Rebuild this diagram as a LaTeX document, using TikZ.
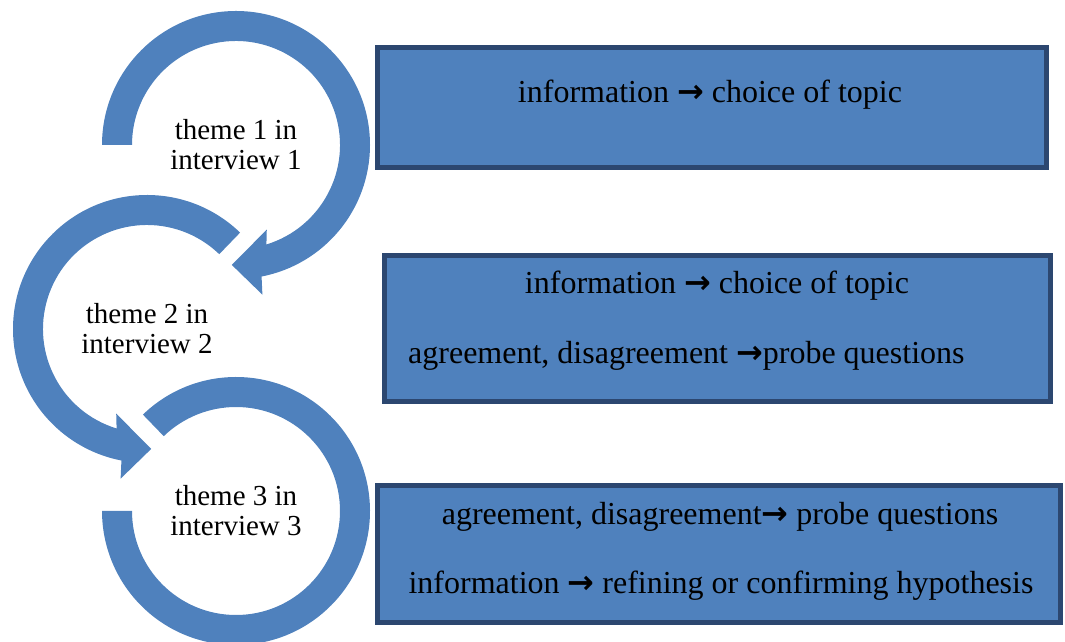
\documentclass[tikz,border=0pt]{standalone}
\usepackage{fontspec}
\setmainfont{Liberation Serif}
\newfontfamily\arrowfont{DejaVu Sans}
\usetikzlibrary{calc}
\definecolor{ringblue}{HTML}{4F81BD}
\definecolor{boxedge}{HTML}{2C4770}
\newcommand{\arr}{{\arrowfont\bfseries →}}

\begin{document}
\begin{tikzpicture}[x=1pt, y=1pt,
  ring/.style={fill=ringblue},
  box/.style={draw=boxedge, line width=5pt, fill=ringblue},
  lbl/.style={font=\fontsize{32}{34}\selectfont, inner sep=0pt},
  theme/.style={font=\fontsize{29}{30}\selectfont, inner sep=0pt, align=center}
]
\useasboundingbox (0,0) rectangle (1065,642);

\coordinate (c1) at (236,497);
\coordinate (c2) at (147,313);
\coordinate (c3) at (236,131);

% ring 1, clockwise, head at the bottom
\fill[ring] ($(c1)+(180:134)$) arc[start angle=180, end angle=-79, radius=134]
  -- ($(c1)+(-80:152)$) -- ($(c1)+(-92:120)$) -- ($(c1)+(-70:90)$) -- ($(c1)+(-73:104)$)
  arc[start angle=-73, end angle=180, radius=104] -- cycle;

% ring 2, counter-clockwise
\fill[ring] ($(c2)+(46:134)$) arc[start angle=46, end angle=259, radius=134]
  -- ($(c2)+(260:152)$) -- ($(c2)+(272:120)$) -- ($(c2)+(250:90)$) -- ($(c2)+(253:104)$)
  arc[start angle=253, end angle=46, radius=104] -- cycle;

% ring 3, no head
\fill[ring] ($(c3)+(134:134)$) arc[start angle=134, end angle=-180, radius=134]
  -- ($(c3)+(180:104)$) arc[start angle=-180, end angle=134, radius=104] -- cycle;

\node[theme] (th1) at (c1) {theme 1 in\\interview 1};
\node[theme] (th2) at (c2) {theme 2 in\\interview 2};
\node[theme] (th3) at (c3) {theme 3 in\\interview 3};

% boxes
\node[box, minimum width=669pt, minimum height=120pt] (b1) at (712,534.5) {};
\node[box, minimum width=666pt, minimum height=146pt] (b2) at (717.5,313.5) {};
\node[box, minimum width=683pt, minimum height=137pt] (b3) at (719,88) {};

\node[lbl, anchor=base] (t1) at (710,539) {information \arr\ choice of topic};

\node[lbl, anchor=base] (t2a) at (717,348) {information \arr\ choice of topic};
\node[lbl, anchor=base west] (t2b) at (408,278) {agreement, disagreement \arr probe questions};

\node[lbl, anchor=base] (t3a) at (720,117) {agreement, disagreement\arr\ probe questions};
\node[lbl, anchor=base] (t3b) at (721,48) {information \arr\ refining or confirming hypothesis};

\end{tikzpicture}
\end{document}
